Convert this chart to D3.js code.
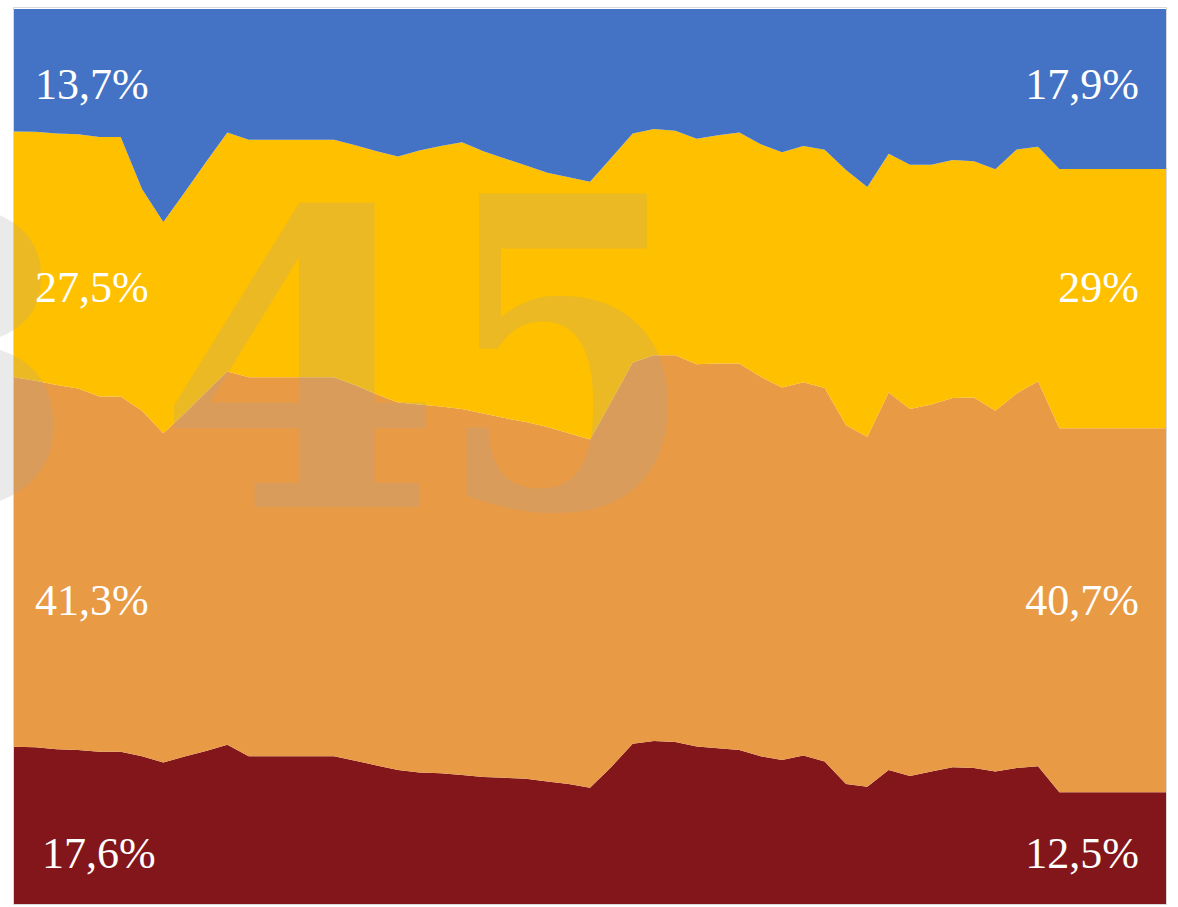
<!DOCTYPE html>
<html lang="en">
<head>
    <meta charset="UTF-8">
    <title>Stacked share chart</title>
    <script src="https://d3js.org/d3.v7.min.js"></script>
    <style>
        body { margin: 0; background: #fff; }
        .share-label {
            font-family: "Liberation Serif", serif;
            font-size: 44px;
            fill: #fff;
        }
        .watermark {
            font-family: "DejaVu Serif", serif;
            font-weight: bold;
            fill: #a4a4a4;
            opacity: 0.22;
        }
    </style>
</head>
<body>
    <svg width="1178" height="907"></svg>

    <script>
        // Period index of each observation (last one is the final result)
        const periods = [0, 1, 2, 3, 4, 5, 6, 7, 8, 9, 10, 11, 12, 13, 14, 15, 16, 17, 18, 19,
            20, 21, 22, 23, 24, 25, 26, 27, 28, 29, 30, 31, 32, 33, 34, 35, 36, 37, 38, 39,
            40, 41, 42, 43, 44, 45, 46, 47, 48, 49, 54];

        // Shares in %, bottom to top
        const darkRed = [17.6, 17.5, 17.3, 17.2, 17.0, 17.0, 16.5, 15.8, 16.5, 17.1,
            17.8, 16.5, 16.5, 16.5, 16.5, 16.5, 16.0, 15.5, 15.0, 14.7,
            14.6, 14.4, 14.2, 14.1, 14.0, 13.7, 13.4, 13.0, 15.3, 17.9,
            18.2, 18.1, 17.6, 17.4, 17.2, 16.5, 16.1, 16.6, 15.9, 13.4,
            13.1, 15.0, 14.3, 14.8, 15.3, 15.2, 14.8, 15.2, 15.4, 12.5, 12.5];
        const orange = [41.3, 40.9, 40.7, 40.4, 39.7, 39.7, 38.6, 36.8, 38.4, 40.1,
            41.7, 42.3, 42.3, 42.3, 42.3, 42.3, 41.9, 41.5, 41.1, 41.1,
            41.0, 40.9, 40.6, 40.2, 39.9, 39.6, 39.2, 38.9, 40.8, 42.6,
            43.1, 43.2, 42.7, 43.0, 43.2, 42.4, 41.6, 41.7, 41.7, 40.1,
            39.1, 42.2, 41.0, 41.0, 41.3, 41.4, 40.3, 41.9, 43.0, 40.7, 40.7];
        const yellow = [27.5, 27.8, 28.1, 28.4, 29.0, 29.0, 24.8, 23.6, 24.7, 25.7,
            26.7, 26.5, 26.5, 26.5, 26.5, 26.5, 26.8, 27.2, 27.5, 28.4,
            29.1, 29.8, 29.3, 29.0, 28.7, 28.4, 28.6, 28.8, 27.2, 25.6,
            25.3, 25.1, 25.2, 25.5, 25.8, 26.0, 26.3, 26.4, 26.6, 28.5,
            27.9, 26.7, 27.3, 26.8, 26.6, 26.4, 27.0, 27.3, 26.2, 29.0, 29.0];
        const blue = [13.7, 13.7, 13.9, 14.0, 14.3, 14.3, 20.1, 23.8, 20.5, 17.1,
            13.8, 14.6, 14.6, 14.6, 14.6, 14.6, 15.2, 15.9, 16.5, 15.8,
            15.3, 14.9, 15.9, 16.7, 17.5, 18.3, 18.8, 19.3, 16.6, 13.9,
            13.4, 13.6, 14.5, 14.1, 13.8, 15.1, 16.0, 15.3, 15.7, 18.0,
            19.9, 16.2, 17.4, 17.4, 16.9, 17.0, 17.9, 15.7, 15.4, 17.9, 17.9];

        const startLabels = ["17,6%", "41,3%", "27,5%", "13,7%"];
        const endLabels = ["12,5%", "40,7%", "29%", "17,9%"];

        const keys = ["darkRed", "orange", "yellow", "blue"];
        const colors = ["#83161a", "#e99a45", "#ffc000", "#4472c4"];

        const svg = d3.select("svg");
        const plotLeft = 14, plotRight = 1166, plotTop = 9, plotBottom = 904;

        const rows = periods.map((p, i) => ({
            period: p,
            darkRed: darkRed[i],
            orange: orange[i],
            yellow: yellow[i],
            blue: blue[i]
        }));

        const stack = d3.stack().keys(keys).offset(d3.stackOffsetExpand);
        const layers = stack(rows);

        const x = d3.scaleLinear().domain(d3.extent(periods)).range([plotLeft, plotRight]);
        const y = d3.scaleLinear().domain([0, 1]).range([plotBottom, plotTop]);

        const area = d3.area()
            .x(d => x(d.data.period))
            .y0(d => y(d[0]))
            .y1(d => y(d[1]));

        svg.append("g")
            .selectAll("path")
            .data(layers)
            .join("path")
            .attr("fill", (d, i) => colors[i])
            .attr("d", area);

        // thin frame round the plot
        svg.append("rect")
            .attr("x", plotLeft - 0.5)
            .attr("y", plotTop - 1.5)
            .attr("width", plotRight - plotLeft + 1)
            .attr("height", plotBottom - plotTop + 2)
            .attr("fill", "none")
            .attr("stroke", "#d9d9d9")
            .attr("stroke-width", 1);

        // watermark digits: [glyph, centre x, font size, horizontal squash]
        const wm = svg.append("g");
        [["3", -63, 410, 1], ["4", 300, 410, 1], ["5", 566, 430, 0.87]].forEach(([t, cx, fs, sx]) => {
            wm.append("text")
                .attr("class", "watermark")
                .attr("transform", `translate(${cx},507) scale(${sx},1)`)
                .attr("font-size", fs)
                .attr("text-anchor", "middle")
                .text(t);
        });

        // share labels, bottom to top
        const labelY = [868, 615, 302, 99];
        const labelStartX = [42, 35, 35, 35];

        svg.append("g")
            .selectAll("text")
            .data(startLabels)
            .join("text")
            .attr("class", "share-label")
            .attr("x", (d, i) => labelStartX[i])
            .attr("y", (d, i) => labelY[i])
            .text(d => d);

        svg.append("g")
            .selectAll("text")
            .data(endLabels)
            .join("text")
            .attr("class", "share-label")
            .attr("text-anchor", "end")
            .attr("x", 1139)
            .attr("y", (d, i) => labelY[i])
            .text(d => d);
    </script>
</body>
</html>
